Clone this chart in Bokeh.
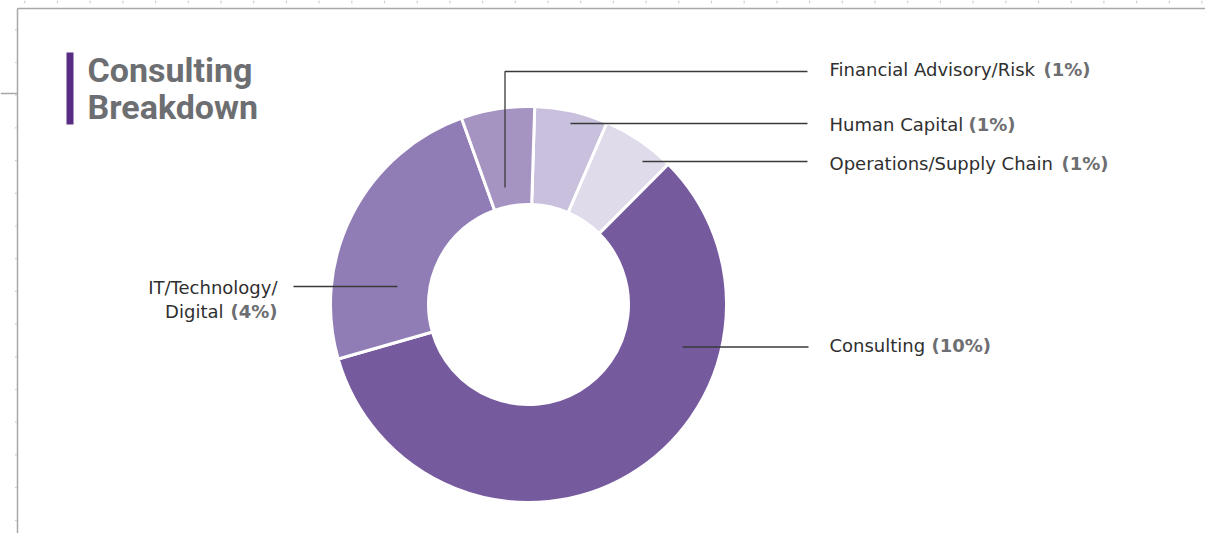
import math
from bokeh.plotting import figure
from bokeh.models import Range1d, ColumnDataSource
from bokeh.core.properties import value
from bokeh.embed import file_html
from bokeh.resources import INLINE

# ---- data (clockwise from the top) ----
categories = ["Human Capital", "Operations/Supply Chain", "Consulting",
              "IT/Technology/Digital", "Financial Advisory/Risk"]
shares = [1.0, 1.0, 9.7, 4.0, 1.0]          # relative slice sizes
pct_labels = ["(1%)", "(1%)", "(10%)", "(4%)", "(1%)"]
colors = ["#c9c0dd", "#e0dbeb", "#765a9e", "#907db5", "#a593c2"]

W, H = 1205, 533
p = figure(width=W, height=H, output_backend="svg", toolbar_location=None,
           x_range=Range1d(0, W), y_range=Range1d(0, H),
           min_border=0, outline_line_color=None)
p.axis.visible = False
p.grid.visible = False
p.background_fill_color = "white"
p.border_fill_color = "white"

def Y(sy):  # page pixel row -> data y
    return H - sy

LFONT = value("DejaVu Sans")
TFONT = value("Roboto")
LDY = 7.7     # renderer baseline compensation (labels)
TDY = 13.5    # renderer baseline compensation (title)

# ---- frame decoration ----
p.segment(x0=[17, 17, 0], y0=[Y(8), Y(8), Y(93)], x1=[W, 17, 17], y1=[Y(8), Y(H), Y(93)],
          line_color="#a8a8a8", line_width=1.5)
tick_rows = [29.3 + 32.7 * i for i in range(16)]
p.segment(x0=[14.5] * len(tick_rows), y0=[Y(t) for t in tick_rows],
          x1=[16.5] * len(tick_rows), y1=[Y(t) for t in tick_rows],
          line_color="#d0d0d0", line_width=1.2)
tick_cols = [24.3 + 32.7 * i for i in range(37)]
p.segment(x0=tick_cols, y0=[Y(0)] * len(tick_cols), x1=tick_cols, y1=[Y(3)] * len(tick_cols),
          line_color="#d0d0d0", line_width=1.2)

# ---- donut ----
total = sum(shares)
start0 = 88.2
starts, ends = [], []
cum = 0.0
for s in shares:
    a0 = start0 - cum / total * 360
    cum += s
    a1 = start0 - cum / total * 360
    starts.append(math.radians(a0))
    ends.append(math.radians(a1))
src = ColumnDataSource(dict(start=starts, end=ends, color=colors, cat=categories))
cx, cy = 528, Y(304)
p.annular_wedge(x=cx, y=cy, inner_radius=100, outer_radius=198,
                start_angle="start", end_angle="end", direction="clock",
                fill_color="color", line_color="white", line_width=3, source=src)

# ---- leader lines ----
lead_x = [[504.5, 504.5, 807], [570, 807], [642, 807], [682, 808], [293, 397]]
lead_y = [[Y(187), Y(71), Y(71)], [Y(123), Y(123)], [Y(161), Y(161)],
          [Y(346.5), Y(346.5)], [Y(286), Y(286)]]
p.multi_line(xs=lead_x, ys=lead_y, line_color="#3a3a3a", line_width=1.3)

# ---- labels ----
name_col = "#2f2f2f"
pct_col = "#6d6e71"
FS = value("18px")
right_idx = [4, 0, 1, 2]
right_base = [76.5, 132, 170.5, 352.5]
right_pct_x = [1043, 968, 1061, 931]
p.text(x=[829] * 4, y=[Y(b - LDY) for b in right_base], text=[categories[i] for i in right_idx],
       text_font=LFONT, text_font_size=FS, text_color=name_col,
       text_align="left", text_baseline="alphabetic")
p.text(x=right_pct_x, y=[Y(b - LDY) for b in right_base], text=[pct_labels[i] for i in right_idx],
       text_font=LFONT, text_font_size=FS, text_color=pct_col, text_font_style="bold",
       text_align="left", text_baseline="alphabetic")
p.text(x=[277], y=[Y(295 - LDY)], text=["IT/Technology/"],
       text_font=LFONT, text_font_size=FS, text_color=name_col,
       text_align="right", text_baseline="alphabetic")
p.text(x=[277], y=[Y(319 - LDY)], text=[pct_labels[3]],
       text_font=LFONT, text_font_size=FS, text_color=pct_col, text_font_style="bold",
       text_align="right", text_baseline="alphabetic")
p.text(x=[223], y=[Y(319 - LDY)], text=["Digital"],
       text_font=LFONT, text_font_size=FS, text_color=name_col,
       text_align="right", text_baseline="alphabetic")

# ---- title ----
p.quad(left=[66], right=[73], top=[Y(52)], bottom=[Y(124)], fill_color="#582c83", line_color=None)
p.text(x=[87, 87], y=[Y(83.3 - TDY), Y(120 - TDY)], text=["Consulting", "Breakdown"],
       text_font=TFONT, text_font_size=value("34px"), text_color="#6d6e71", text_font_style="bold",
       text_align="left", text_baseline="alphabetic")

open("out.html", "w").write(file_html(p, INLINE))
